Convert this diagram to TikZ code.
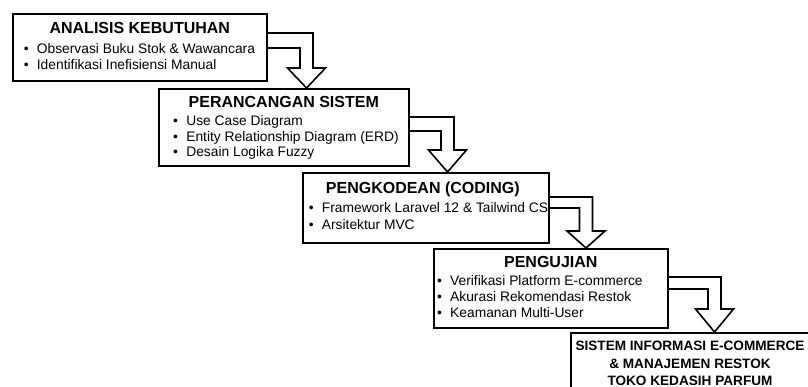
\documentclass[tikz,border=0pt]{standalone}
\usepackage{fontspec}
\setmainfont{Liberation Sans}
\usetikzlibrary{calc}
\tikzset{
  box/.style={draw, line width=1.6pt, inner sep=0pt, anchor=north west},
  ttl/.style={font=\fontsize{16}{18}\selectfont\bfseries, inner sep=0pt, anchor=base},
  item/.style={font=\fontsize{13.8}{15.5}\selectfont, inner sep=0pt, anchor=base west},
  hollow/.style={line width=1.6pt, line join=miter},
}
\begin{document}
\begin{tikzpicture}[x=1pt, y=1pt]
\clip (0,0) rectangle (808,-387);
\fill[white] (0,0) rectangle (808,-387);
% tahapan
\node[box, minimum width=254pt, minimum height=67pt] (anl) at (12,-13) {};
\node[box, minimum width=250pt, minimum height=77pt] (prc) at (158,-88) {};
\node[box, minimum width=246pt, minimum height=70pt] (kod) at (302,-172) {};
\node[box, minimum width=234pt, minimum height=79pt] (uji) at (433,-248) {};
\node[box, minimum width=242pt, minimum height=70pt] (sis) at (570,-332) {};
% judul
\node[ttl] (anl-t) at ($(anl.north)+(0,-20.5)$) {ANALISIS KEBUTUHAN};
\node[ttl] (prc-t) at ($(prc.north)+(0,-20)$) {PERANCANGAN SISTEM};
\node[ttl] (kod-t) at ($(kod.north)+(-3,-22)$) {PENGKODEAN (CODING)};
\node[ttl] (uji-t) at ($(uji.north)+(0,-20)$) {PENGUJIAN};
\node[font=\fontsize{13.6}{17.5}\selectfont\bfseries, align=center, inner sep=0pt, anchor=north] (sis-t) at ($(sis.north west)+(120,-9)$) {SISTEM INFORMASI E-COMMERCE\\ \& MANAJEMEN RESTOK\\ TOKO KEDASIH PARFUM};
% butir
\foreach \t [count=\i] in {Observasi Buku Stok \& Wawancara, Identifikasi Inefisiensi Manual}
  \node[item] (anl-\i) at ($(anl.north west)+(11.6,{-41-15.5*(\i-1)})$) {\textbullet\hspace{0.6em}\t};
\foreach \t [count=\i] in {Use Case Diagram, Entity Relationship Diagram (ERD), Desain Logika Fuzzy}
  \node[item] (prc-\i) at ($(prc.north west)+(15,{-37.5-15.7*(\i-1)})$) {\textbullet\hspace{0.6em}\t};
\foreach \t [count=\i] in {Framework Laravel 12 \& Tailwind CS, Arsitektur MVC}
  \node[item] (kod-\i) at ($(kod.north west)+(6.6,{-40.7-16.5*(\i-1)})$) {\textbullet\hspace{0.6em}\t};
\foreach \t [count=\i] in {Verifikasi Platform E-commerce, Akurasi Rekomendasi Restok, Keamanan Multi-User}
  \node[item] (uji-\i) at ($(uji.north west)+(3.9,{-37-16*(\i-1)})$) {\textbullet\hspace{0.6em}\t};
% panah berongga
\foreach \a/\b/\x/\yo/\yi/\h in {anl/prc/306.5/33/48/20, prc/kod/447.5/117/131/22, kod/uji/586/197/208/17, uji/sis/714.5/277/289/23} {
  \coordinate (tip) at (\b.north -| \x,0);
  \draw[hollow] (\a.east |- 0,-\yo) -| ($(tip)+(6.5,\h)$) -- ++(12.5,0) -- (tip)
    -- ++(-19,\h) -- ++(12.5,0) |- (\a.east |- 0,-\yi);
}
\end{tikzpicture}
\end{document}
